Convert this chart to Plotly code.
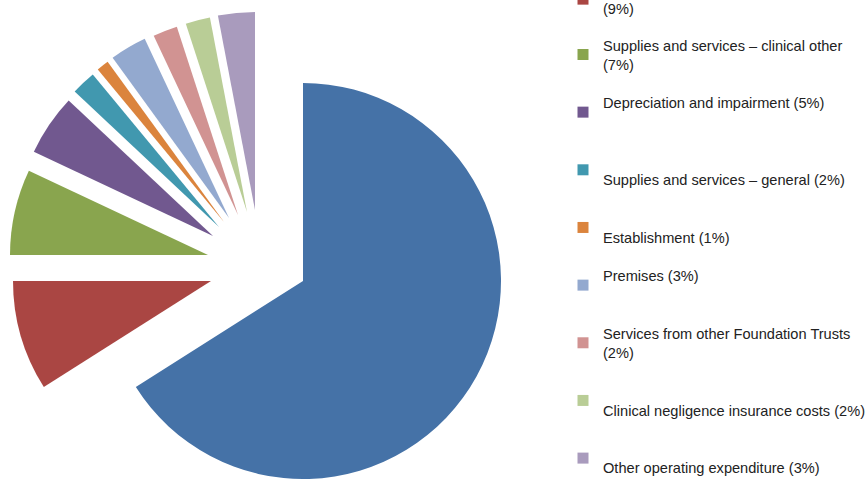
import plotly.graph_objects as go

# ---------------- data ----------------
categories = [
    "Staff costs",
    "Drug costs",
    "Supplies and services – clinical other",
    "Depreciation and impairment",
    "Supplies and services – general",
    "Establishment",
    "Premises",
    "Services from other Foundation Trusts",
    "Clinical negligence insurance costs",
    "Other operating expenditure",
]
shares = [66, 9, 7, 5, 2, 1, 3, 2, 2, 3]

# legend labels as they are wrapped in the chart
legend_labels = [
    "Staff costs (66%)<br>\u00a0",
    "Drug costs<br>(9%)",
    "Supplies and services – clinical other<br>(7%)",
    "Depreciation and impairment (5%)<br>\u00a0",
    "\u00a0<br>Supplies and services – general (2%)",
    "\u00a0<br>Establishment (1%)",
    "Premises (3%)<br>\u00a0",
    "Services from other Foundation Trusts<br>(2%)",
    "\u00a0<br>Clinical negligence insurance costs (2%)",
    "\u00a0<br>Other operating expenditure (3%)",
]

# ---------------- style / layout ----------------
colors = ["#4572A7", "#AA4643", "#89A54E", "#71588F", "#4198AF",
          "#DB843D", "#93A9CF", "#D19392", "#B9CD96", "#A99BBD"]

W, H = 867, 479
R = 198  # slice radius in px
# apex (px) of each exploded slice
apex = [(303, 281), (211, 281), (208, 255), (213, 236), (219, 227),
        (224, 222), (229, 218), (238, 215), (247, 212), (255, 210)]

fig = go.Figure()

for i, (cx, cy) in enumerate(apex):
    slice_colors = [colors[j] if j == i else "rgba(0,0,0,0)" for j in range(len(shares))]
    x0 = max(0.0, (cx - R) / W)
    x1 = min(1.0, (cx + R) / W)
    y0 = max(0.0, 1 - (cy + R) / H)
    y1 = min(1.0, 1 - (cy - R) / H)
    fig.add_trace(go.Pie(
        labels=categories,
        values=shares,
        sort=False,
        direction="clockwise",
        rotation=0,
        textinfo="none",
        hoverinfo="label+percent",
        marker=dict(colors=slice_colors, line=dict(width=0)),
        showlegend=False,
        domain=dict(x=[x0, x1], y=[y0, y1]),
    ))

legend_font = dict(family="Liberation Sans, Arial, sans-serif", size=14.6, color="#222222")

for i, lab in enumerate(legend_labels):
    fig.add_trace(go.Scatter(
        x=[None], y=[None], mode="markers",
        marker=dict(symbol="square", size=11, color=colors[i]),
        name=lab,
        legendgroup=f"g{i}",
        legend="legend2" if i < 2 else "legend",
        showlegend=True,
        hoverinfo="skip",
    ))

fig.update_layout(
    width=W, height=H,
    margin=dict(l=0, r=0, t=0, b=0, autoexpand=False),
    paper_bgcolor="white",
    plot_bgcolor="white",
    xaxis=dict(visible=False),
    yaxis=dict(visible=False),
    legend=dict(
        x=563 / W, xanchor="left",
        y=1 - 29 / H, yanchor="top",
        traceorder="grouped", tracegroupgap=16.7,
        font=legend_font, bgcolor="rgba(0,0,0,0)",
        itemclick=False, itemdoubleclick=False,
    ),
    legend2=dict(
        x=563 / W, xanchor="left",
        y=1 + 84 / H, yanchor="top",
        traceorder="grouped", tracegroupgap=16.7,
        font=legend_font, bgcolor="rgba(0,0,0,0)",
        itemclick=False, itemdoubleclick=False,
    ),
)

fig.write_html("out.html")
